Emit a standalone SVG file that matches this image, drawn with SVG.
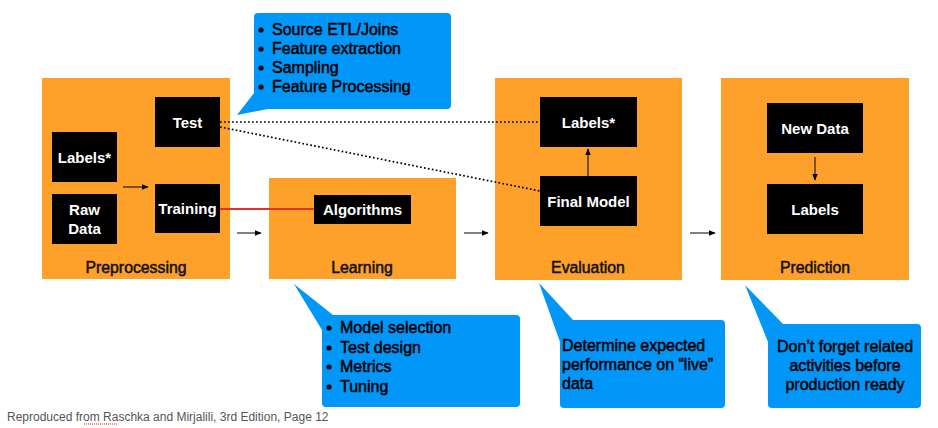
<svg xmlns="http://www.w3.org/2000/svg" width="938" height="428" viewBox="0 0 938 428">
<defs>
<style>
.stage{fill:#FEA12A}
.blk{fill:#000}
.call{fill:#0097F9}
.wl{font-family:"Liberation Sans",Arial,sans-serif;font-size:15px;font-weight:bold;fill:#fff;text-anchor:middle}
.sl{font-family:"Liberation Sans",Arial,sans-serif;font-size:15.8px;fill:#111;stroke:#111;stroke-width:0.5;text-anchor:middle}
.ct{font-family:"Liberation Sans",Arial,sans-serif;font-size:16px;fill:#000;stroke:#000;stroke-width:0.5}
.dot{stroke:#000;stroke-width:1.7;stroke-dasharray:1.7 2.3;fill:none}
.arr{stroke:#000;stroke-width:1;fill:none;marker-end:url(#ah)}
</style>
<marker id="ah" viewBox="0 0 10 10" refX="9" refY="5" markerWidth="7" markerHeight="7" markerUnits="userSpaceOnUse" orient="auto">
<path d="M0,1 L10,5 L0,9 z" fill="#000"/>
</marker>
</defs>
<rect width="938" height="428" fill="#fff"/>

<g id="preprocessing">
<rect class="stage" x="42" y="78" width="188" height="201"/>
<text class="sl" x="136" y="273">Preprocessing</text>
</g>
<g id="learning">
<rect class="stage" x="269" y="178" width="187" height="101"/>
<text class="sl" x="362" y="273">Learning</text>
</g>
<g id="evaluation">
<rect class="stage" x="495" y="78" width="187" height="202"/>
<text class="sl" x="588" y="273">Evaluation</text>
</g>
<g id="prediction">
<rect class="stage" x="721" y="78" width="188" height="202"/>
<text class="sl" x="815" y="273">Prediction</text>
</g>

<g id="connectors">
<line class="dot" x1="220" y1="122" x2="540" y2="122"/>
<line class="dot" x1="220" y1="127" x2="540" y2="191"/>
<line x1="220" y1="209" x2="314" y2="209" stroke="#E8302A" stroke-width="2"/>
<line class="arr" x1="123" y1="187" x2="148" y2="187"/>
<line class="arr" x1="237" y1="233" x2="261" y2="233"/>
<line class="arr" x1="464" y1="233" x2="488" y2="233"/>
<line class="arr" x1="690" y1="233" x2="715" y2="233"/>
<line class="arr" x1="588" y1="176" x2="588" y2="149"/>
<line class="arr" x1="815" y1="157" x2="815" y2="180"/>
</g>

<g id="test">
<rect class="blk" x="155" y="97" width="65" height="50"/>
<text class="wl" x="187.5" y="127.5">Test</text>
</g>
<g id="labels-pre">
<rect class="blk" x="52" y="132" width="65" height="50"/>
<text class="wl" x="84.5" y="162.5">Labels*</text>
</g>
<g id="raw-data">
<rect class="blk" x="52" y="194" width="65" height="50"/>
<text class="wl" x="84.5" y="215">Raw</text>
<text class="wl" x="84.5" y="233.5">Data</text>
</g>
<g id="training">
<rect class="blk" x="155" y="184" width="65" height="49"/>
<text class="wl" x="187.5" y="214">Training</text>
</g>
<g id="algorithms">
<rect class="blk" x="314" y="195" width="97" height="29"/>
<text class="wl" x="362.5" y="215">Algorithms</text>
</g>
<g id="labels-eval">
<rect class="blk" x="540" y="97" width="97" height="50"/>
<text class="wl" x="588.5" y="127.5">Labels*</text>
</g>
<g id="final-model">
<rect class="blk" x="540" y="176" width="97" height="50"/>
<text class="wl" x="588.5" y="206.5">Final Model</text>
</g>
<g id="new-data">
<rect class="blk" x="767" y="103" width="96" height="50"/>
<text class="wl" x="815" y="133.5">New Data</text>
</g>
<g id="labels-pred">
<rect class="blk" x="767" y="184" width="96" height="50"/>
<text class="wl" x="815" y="214.5">Labels</text>
</g>

<g id="callout-preprocessing">
<path class="call" d="M258,13 H447 Q451,13 451,17 V105 Q451,109 447,109 H268 L237,115 L254,93 V17 Q254,13 258,13 Z"/>
<circle cx="261" cy="30" r="2.6"/><circle cx="261" cy="49" r="2.6"/><circle cx="261" cy="68" r="2.6"/><circle cx="261" cy="87" r="2.6"/>
<text class="ct" x="272" y="35">Source ETL/Joins</text>
<text class="ct" x="272" y="54">Feature extraction</text>
<text class="ct" x="272" y="73">Sampling</text>
<text class="ct" x="272" y="92">Feature Processing</text>
</g>

<g id="callout-learning">
<path class="call" d="M333,315 H516 Q520,315 520,319 V403 Q520,407 516,407 H326 Q322,407 322,403 V330 L294,284 Z"/>
<circle cx="329" cy="328" r="2.6"/><circle cx="329" cy="348" r="2.6"/><circle cx="329" cy="367" r="2.6"/><circle cx="329" cy="387" r="2.6"/>
<text class="ct" x="340" y="333">Model selection</text>
<text class="ct" x="340" y="353">Test design</text>
<text class="ct" x="340" y="372">Metrics</text>
<text class="ct" x="340" y="392">Tuning</text>
</g>

<g id="callout-evaluation">
<path class="call" d="M573,320 H721 Q725,320 725,324 V404 Q725,408 721,408 H564 Q560,408 560,404 V342 L539,283 Z"/>
<text class="ct" x="562" y="351">Determine expected</text>
<text class="ct" x="562" y="370">performance on “live”</text>
<text class="ct" x="562" y="389">data</text>
</g>

<g id="callout-prediction">
<path class="call" d="M783,324 H917 Q921,324 921,328 V404 Q921,408 917,408 H772 Q768,408 768,404 V342 L745,285 Z"/>
<text class="ct" x="845" y="352" text-anchor="middle">Don’t forget related</text>
<text class="ct" x="845" y="371" text-anchor="middle">activities before</text>
<text class="ct" x="845" y="390" text-anchor="middle">production ready</text>
</g>

<g id="footer">
<text x="7" y="421" font-family="'Liberation Sans',Arial,sans-serif" font-size="12" fill="#555">Reproduced from Raschka and Mirjalili, 3rd Edition, Page 12</text>
<line x1="84" y1="424" x2="118" y2="424" stroke="#E02020" stroke-width="1" stroke-dasharray="1 1"/>
</g>
</svg>
